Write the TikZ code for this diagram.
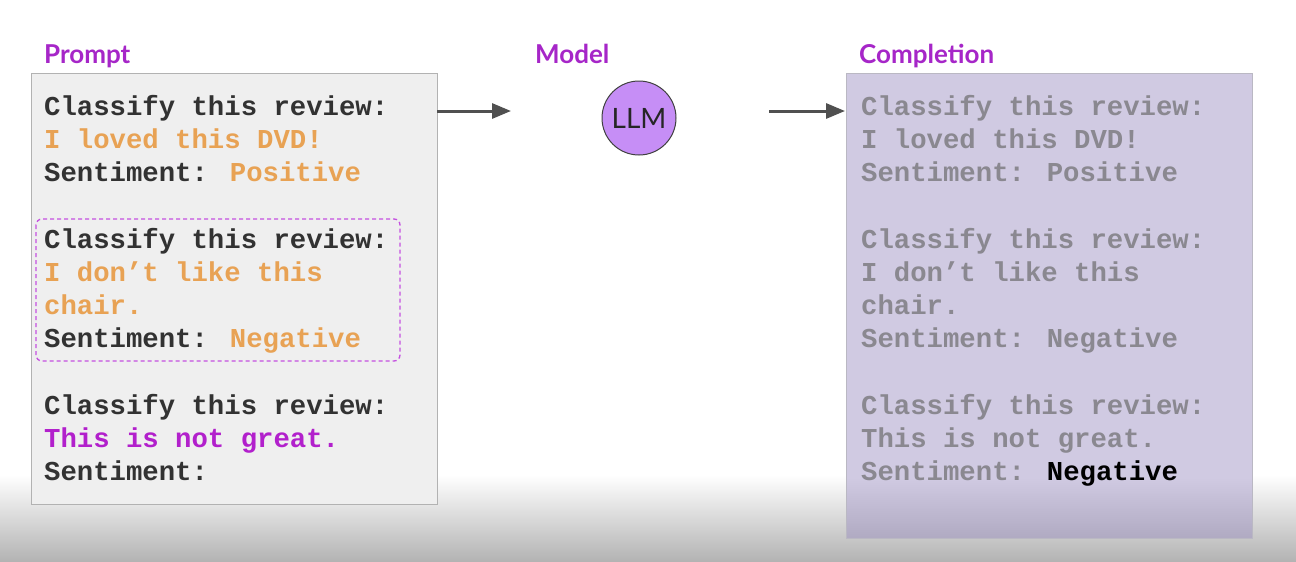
\documentclass[tikz,border=0pt]{standalone}
\usepackage{fontspec}
\usetikzlibrary{arrows.meta}
\newfontfamily\cmono{Liberation Mono}
\newfontfamily\titlefont{Lato}
\definecolor{ttl}{RGB}{166,38,200}
\definecolor{txt}{RGB}{50,50,50}
\definecolor{org}{RGB}{232,162,84}
\definecolor{pur}{RGB}{178,32,204}
\definecolor{gry}{RGB}{138,136,144}
\definecolor{lbox}{RGB}{239,239,239}
\definecolor{lbord}{RGB}{178,178,178}
\definecolor{rbox}{RGB}{208,202,226}
\definecolor{rboxd}{RGB}{176,170,194}
\definecolor{llmfill}{RGB}{198,142,246}
\definecolor{arr}{RGB}{80,80,80}
\definecolor{dsh}{RGB}{196,80,224}
\tikzset{
  ln/.style={font=\cmono\bfseries\fontsize{27.3}{33}\selectfont, anchor=base west, inner sep=0pt, text=txt},
  ttlstyle/.style={font=\titlefont\bfseries\fontsize{26}{30}\selectfont, anchor=base west, inner sep=0pt, text=ttl},
  conn/.style={draw=arr, line width=3pt, -{Triangle[length=19pt,width=15pt]}},
}
\begin{document}
\begin{tikzpicture}[x=1pt,y=-1pt]
\useasboundingbox (0,0) rectangle (1296,562);
% background with bottom shading
\fill[white] (0,0) rectangle (1296,562);
\shade[top color=white, bottom color=white!70!black] (0,475) rectangle (1296,562);
% titles
\node[ttlstyle] (tprompt) at (44,63) {Prompt};
\node[ttlstyle] (tmodel) at (535,63) {Model};
\node[ttlstyle] (tcompl) at (859,63) {Completion};
% left box
\path[fill=lbox, draw=lbord, line width=1pt] (31,73) rectangle (437,504);
\coordinate (lboxE) at (437,111);
% dashed example box
\draw[dsh, line width=1.3pt, rounded corners=6pt, dash pattern=on 4pt off 3pt] (36,219) rectangle (400,361);
% left text
\node[ln] (l1) at (44,115) {Classify this review:};
\node[ln, text=org] (l2) at (44,148) {I loved this DVD!};
\node[ln] (l3) at (44,181) {Sentiment: \textcolor{org}{Positive}};
\node[ln] (l4) at (44,248) {Classify this review:};
\node[ln, text=org] (l5) at (44,281) {I don’t like this};
\node[ln, text=org] (l6) at (44,314) {chair.};
\node[ln] (l7) at (44,347) {Sentiment: \textcolor{org}{Negative}};
\node[ln] (l8) at (44,414) {Classify this review:};
\node[ln, text=pur] (l9) at (44,447) {This is not great.};
\node[ln] (l10) at (44,480) {Sentiment:};
% right box
\fill[rbox] (846,73) rectangle (1252,538);
\shade[top color=rbox, bottom color=rboxd] (846,478) rectangle (1252,538);
\draw[rboxd!80!black!60!white, line width=1pt] (846,73) rectangle (1252,538);
\coordinate (rboxW) at (845,111);
\node[ln, text=gry] (r1) at (861,115) {Classify this review:};
\node[ln, text=gry] (r2) at (861,148) {I loved this DVD!};
\node[ln, text=gry] (r3) at (861,181) {Sentiment: Positive};
\node[ln, text=gry] (r4) at (861,248) {Classify this review:};
\node[ln, text=gry] (r5) at (861,281) {I don’t like this};
\node[ln, text=gry] (r6) at (861,314) {chair.};
\node[ln, text=gry] (r7) at (861,347) {Sentiment: Negative};
\node[ln, text=gry] (r8) at (861,414) {Classify this review:};
\node[ln, text=gry] (r9) at (861,447) {This is not great.};
\node[ln, text=gry] (r10) at (861,480) {Sentiment: \textcolor{black}{Negative}};
% LLM
\node[circle, minimum size=74pt, inner sep=0pt, fill=llmfill, draw=black!75, line width=1pt,
      font=\titlefont\fontsize{28}{32}\selectfont, text=black!85] (llm) at (639,118) {LLM};
% arrows
\coordinate (a1e) at (511,111);
\coordinate (a2s) at (769,111);
\draw[conn] (lboxE) -- (a1e);
\draw[conn] (a2s) -- (rboxW);
\end{tikzpicture}
\end{document}
